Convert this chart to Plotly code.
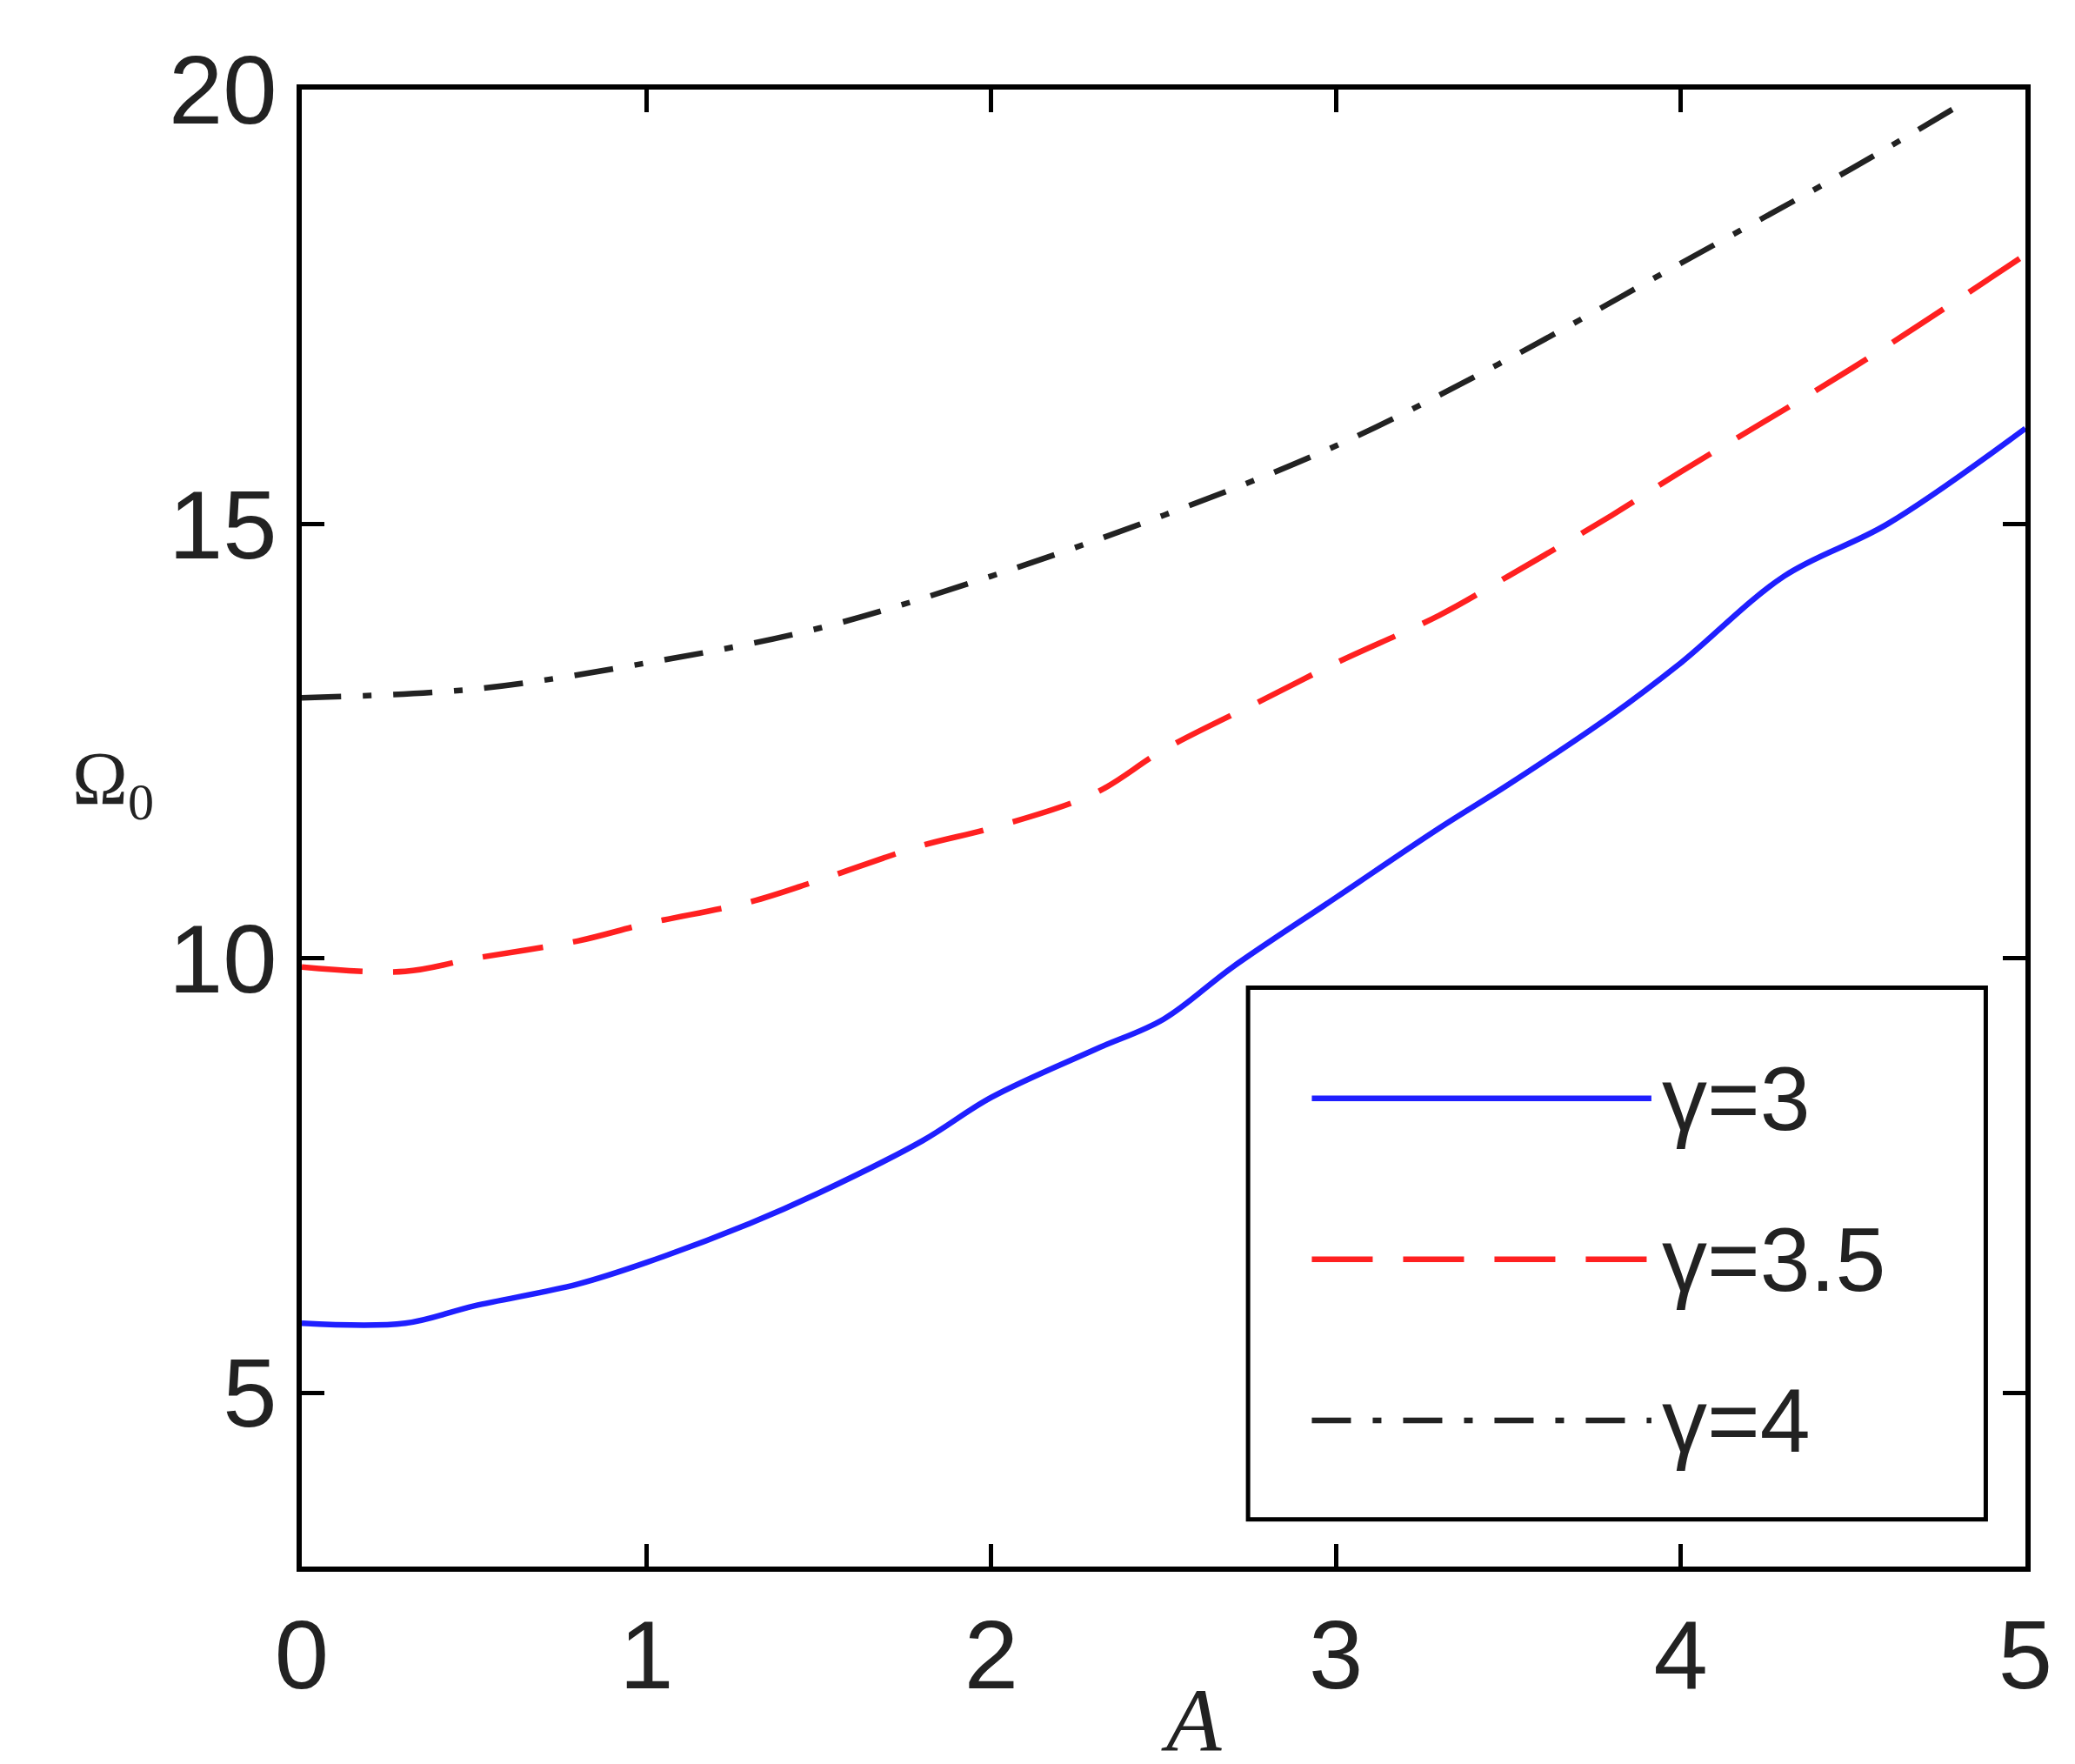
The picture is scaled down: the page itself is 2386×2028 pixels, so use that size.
import plotly.graph_objects as go

# curve data
a_blue = [0, 0.3, 0.5, 0.8, 1.0, 1.3, 1.5, 1.8, 2.0, 2.3, 2.5, 2.7, 3.0, 3.3, 3.5, 3.8, 4.0, 4.3, 4.6, 5.0]
om_blue = [5.8, 5.8, 6.0, 6.25, 6.5, 6.95, 7.3, 7.9, 8.4, 8.95, 9.3, 9.9, 10.7, 11.5, 12.0, 12.8, 13.4, 14.4, 15.0, 16.1]
a_red = [0, 0.3, 0.5, 0.8, 1.0, 1.3, 1.5, 1.8, 2.0, 2.3, 2.5, 2.8, 3.0, 3.3, 3.5, 3.8, 4.0, 4.5, 5.0]
om_red = [9.9, 9.85, 10.0, 10.2, 10.4, 10.65, 10.9, 11.3, 11.5, 11.9, 12.4, 13.0, 13.4, 13.95, 14.4, 15.1, 15.6, 16.8, 18.1]
a_black = [0, 0.5, 1.0, 1.5, 2.0, 2.5, 3.0, 3.5, 4.0, 4.5, 4.8]
om_black = [13.0, 13.1, 13.4, 13.8, 14.4, 15.1, 15.9, 16.9, 18.0, 19.1, 19.8]

series = [
    ('γ=3', a_blue, om_blue, '#1f1fff', 'solid'),
    ('γ=3.5', a_red, om_red, '#ff2020', '70px,35px'),
    ('γ=4', a_black, om_black, '#222222', '45px,25px,10px,25px'),
]

fig = go.Figure()
for name, x, y, color, dash in series:
    fig.add_trace(go.Scatter(x=x, y=y, mode='lines', name=name, line_shape='spline',
                             line=dict(color=color, width=6.5, dash=dash)))

axis = dict(showline=True, mirror='ticks', linecolor='black', linewidth=6,
            ticks='inside', ticklen=26, tickwidth=5, tickcolor='black',
            showgrid=False, zeroline=False,
            tickfont=dict(family='Liberation Sans', size=112, color='#222'))
fig.update_xaxes(range=[0, 5], tickvals=[0, 1, 2, 3, 4, 5], **axis)
fig.update_yaxes(range=[3, 20], tickvals=[5, 10, 15, 20], **axis)

# hand-drawn legend box matching the original look
L, T = 0.549, 0.392
fig.add_shape(type='rect', xref='paper', yref='paper', x0=L, x1=0.977, y0=0.032, y1=T,
              line=dict(color='black', width=5), fillcolor='white', layer='above')
rows = [0.317, 0.208, 0.099]
for (name, _, _, color, dash), ry in zip(series, rows):
    fig.add_shape(type='line', xref='paper', yref='paper', x0=0.586, x1=0.783, y0=ry, y1=ry,
                  line=dict(color=color, width=6.5, dash=dash), layer='above')
    fig.add_annotation(xref='paper', yref='paper', x=0.788, y=ry, text=name, showarrow=False,
                       xanchor='left', yanchor='middle',
                       font=dict(family='Liberation Sans', size=104, color='#222'))

fig.add_annotation(xref='paper', yref='paper', x=-0.085, y=0.53, text='Ω<sub>0</sub>',
                   showarrow=False, xanchor='right',
                   font=dict(family='Liberation Serif', size=86, color='#222'))
fig.add_annotation(xref='paper', yref='paper', x=0.516, y=-0.104, text='<i>A</i>',
                   showarrow=False, yanchor='middle',
                   font=dict(family='Liberation Serif', size=104, color='#222'))

fig.update_layout(width=2386, height=2028, showlegend=False,
                  plot_bgcolor='white', paper_bgcolor='white',
                  margin=dict(l=339, r=65, t=95, b=235))
fig.write_html('out.html')
